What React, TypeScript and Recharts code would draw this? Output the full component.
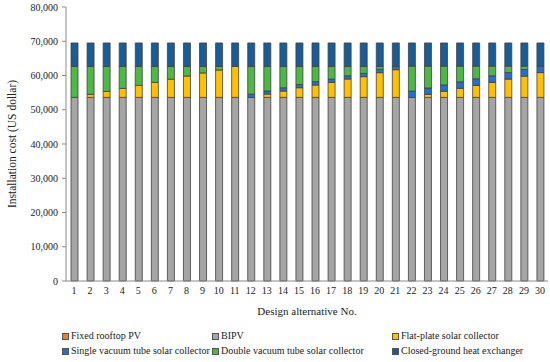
import React from 'react';
import { BarChart, Bar, XAxis, YAxis, Legend } from 'recharts';

const alternatives = ['1','2','3','4','5','6','7','8','9','10','11','12','13','14','15','16','17','18','19','20','21','22','23','24','25','26','27','28','29','30'];

const fixedRooftopPV = [0,0,0,0,0,0,0,0,0,0,0,0,0,0,0,0,0,0,0,0,0,0,0,0,0,0,0,0,0,0];
const bipv = [53600,53600,53600,53600,53600,53600,53600,53600,53600,53600,53600,53600,53600,53600,53600,53600,53600,53600,53600,53600,53600,53600,53600,53600,53600,53600,53600,53600,53600,53600];
const flatPlate = [0,900,1760,2640,3520,4400,5330,6250,7150,8000,9050,0,980,1860,2830,3620,4400,5380,6060,7230,8100,0,900,1800,2650,3500,4400,5350,6200,7250];
const singleVacuum = [0,0,0,0,0,0,0,0,0,0,0,950,900,950,950,1000,950,950,950,1000,950,1850,1850,1850,1900,1950,1900,1900,1950,1900];
const doubleVacuum = [9050,8150,7290,6410,5530,4650,3720,2800,1900,1050,0,8100,7170,6240,5270,4430,3700,2720,2040,820,0,7300,6400,5500,4600,3700,2850,1900,1000,0];
const closedGround = [6850,6850,6850,6850,6850,6850,6850,6850,6850,6850,6850,6850,6850,6850,6850,6850,6850,6850,6850,6850,6850,6750,6750,6750,6750,6750,6750,6750,6750,6750];

const yTicks = [0,10000,20000,30000,40000,50000,60000,70000,80000];

const series = [
  { key: 'fixed', name: 'Fixed rooftop PV', color: '#ED7D31', values: fixedRooftopPV },
  { key: 'bipv', name: 'BIPV', color: '#A5A5A5', values: bipv },
  { key: 'flat', name: 'Flat-plate solar collector', color: '#FFC000', values: flatPlate },
  { key: 'single', name: 'Single vacuum tube solar collector', color: '#2270D4', values: singleVacuum },
  { key: 'double', name: 'Double vacuum tube solar collector', color: '#4CB944', values: doubleVacuum },
  { key: 'closed', name: 'Closed-ground heat exchanger', color: '#1A5C96', values: closedGround },
];

const data = alternatives.map((a, i) => {
  const row: any = { name: a };
  series.forEach(s => { row[s.key] = s.values[i]; });
  return row;
});

const FONT = '"Liberation Sans Narrow", "Liberation Serif", serif';
const legendCols = [62, 212, 392];
const legendRows = [0, 15];

const renderLegend = (props: any) => {
  const { payload } = props;
  return (
    <div style={{ position: 'relative', width: 550, height: 30, fontFamily: FONT, fontSize: 10, color: '#222' }}>
      {series.map((s, i) => {
        const entry = (payload || []).find((p: any) => p.dataKey === s.key);
        const color = entry ? entry.color : s.color;
        return (
          <div key={s.key} style={{ position: 'absolute', left: legendCols[i % 3], top: legendRows[Math.floor(i / 3)], display: 'flex', alignItems: 'center', whiteSpace: 'nowrap', lineHeight: '12px' }}>
            <span style={{ display: 'inline-block', width: 5, height: 5, background: color, border: '1px solid #555', marginRight: 2 }} />
            <span>{entry ? entry.value : s.name}</span>
          </div>
        );
      })}
    </div>
  );
};

const fmt = (v: number) => v.toLocaleString('en-US');

export default function App() {
  return (
    <div style={{ position: 'absolute', left: 0, top: 0, width: 550, height: 362, background: '#fff', fontFamily: FONT }}>
      <BarChart width={550} height={362} data={data} margin={{ top: 7, right: 2, bottom: 0, left: 0 }} barCategoryGap={0} style={{ fontFamily: FONT }}>
        <XAxis dataKey="name" interval={0} tickLine={false} axisLine={{ stroke: '#8a8a8a' }}
          tick={{ fontSize: 10, fontFamily: FONT, fill: '#222' }} tickSize={4} height={51}
          label={{ value: 'Design alternative  No.', position: 'insideBottom', offset: 17, style: { fontSize: 11, fontFamily: FONT, fill: '#222', whiteSpace: 'pre' } }} />
        <XAxis xAxisId="top" orientation="top" dataKey="name" tick={false} tickLine={false} axisLine={{ stroke: '#8a8a8a' }} height={0} />
        <YAxis domain={[0, 80000]} ticks={yTicks} tickFormatter={fmt} width={66} interval={0}
          tick={{ fontSize: 10, fontFamily: FONT, fill: '#222' }} tickSize={4} tickMargin={4}
          tickLine={{ stroke: '#8a8a8a' }} axisLine={{ stroke: '#8a8a8a' }}
          label={{ value: 'Installation cost (US dollar)', angle: -90, position: 'insideLeft', offset: 12, style: { fontSize: 11.5, fontFamily: FONT, fill: '#222', textAnchor: 'middle' } }} />
        <YAxis yAxisId="right" orientation="right" domain={[0, 80000]} tick={false} tickLine={false} axisLine={{ stroke: '#8a8a8a' }} width={0} />
        <Legend content={renderLegend} wrapperStyle={{ position: 'absolute', left: 0, top: 330, width: 550, height: 30 }} />
        {series.map(s => (
          <Bar key={s.key} dataKey={s.key} name={s.name} stackId="a" fill={s.color} stroke="#404040" strokeWidth={0.8} barSize={7} isAnimationActive={false} />
        ))}
      </BarChart>
    </div>
  );
}
